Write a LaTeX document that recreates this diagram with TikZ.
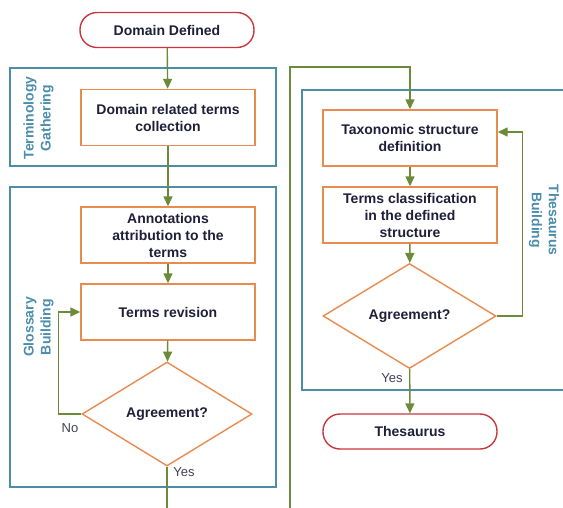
\documentclass[tikz,border=0pt]{standalone}
\usepackage{fontspec}
\setmainfont{Liberation Sans}
\usetikzlibrary{arrows.meta,shapes.geometric,calc}
\definecolor{orng}{HTML}{E98B4F}
\definecolor{redc}{HTML}{C9363E}
\definecolor{grn}{HTML}{6B8A3A}
\definecolor{blu}{HTML}{4B8DAA}
\definecolor{txt}{HTML}{1F1F3A}
\begin{document}
\begin{tikzpicture}[x=1pt,y=-1pt,
  every node/.style={font=\bfseries\fontsize{14}{17}\selectfont, text=txt, align=center},
  proc/.style={draw=orng, line width=1.4pt, fill=white, minimum width=174pt, minimum height=56pt, inner sep=2pt},
  stad/.style={draw=redc, line width=1.4pt, fill=white, rounded corners=17pt, minimum width=174pt, minimum height=35pt},
  dec/.style={draw=orng, line width=1.4pt, fill=white, diamond, aspect=1.63, inner sep=0pt},
  grp/.style={draw=blu, line width=1.4pt, minimum width=266pt, inner sep=0pt},
  grplabel/.style={text=blu},
  conn/.style={draw=grn, line width=1.4pt},
  arr/.style={conn, -{Triangle[length=10pt,width=9pt]}},
  lbl/.style={font=\fontsize{13}{15}\selectfont, text=txt!85}
]
\useasboundingbox (0,0) rectangle (563,507);
% groups
\node[grp, minimum height=98pt] (tg) at (143,117) {};
\node[grp, minimum height=300pt] (gb) at (143,337) {};
\node[grp, minimum width=270pt, minimum height=300pt] (tb) at (437,240) {};
\node[grplabel, rotate=90] (tgl) at (38.5,118) {Terminology\\Gathering};
\node[grplabel, rotate=90] (gbl) at (38.5,327) {Glossary\\Building};
\node[grplabel, rotate=-90] (tbl) at (544,220) {Thesaurus\\Building};
% left column
\node[stad] (dd) at (167,30) {Domain Defined};
\node[proc] (drt) at (168,117.5) {Domain related terms\\collection};
\node[proc] (ann) at (168,235) {Annotations\\attribution to the\\terms};
\node[proc] (rev) at (168,312) {Terms revision};
\node[dec, minimum width=170pt, minimum height=104pt] (dl) at (167,414) {Agreement?};
\node[lbl] (no) at (70,428) {No};
\node[lbl] (yl) at (184,472) {Yes};
% right column
\node[proc] (tax) at (410,138) {Taxonomic structure\\definition};
\node[proc] (tc) at (410,215) {Terms classification\\in the defined\\structure};
\node[dec, minimum width=173pt, minimum height=105pt] (dr) at (409.5,316) {Agreement?};
\node[lbl] (yr) at (392,378) {Yes};
\node[stad] (th) at (410,431.5) {Thesaurus};
\coordinate (botL) at (167,510);
\coordinate (botR) at (290,510);
\coordinate (topR) at (290,67);
% connectors
\draw[arr] (dd) -- (drt);
\draw[arr] (drt) -- (ann);
\draw[arr] (ann) -- (rev);
\draw[arr] (rev) -- (dl);
\draw[arr] (dl.west) -- ++(-23,0) |- (rev.west);
\draw[conn] (dl.south) -- (dl.south |- botL);
\draw[arr] (botR) -- (topR) -| (tax.north);
\draw[arr] (tax) -- (tc);
\draw[arr] (tc) -- (dr);
\draw[arr] (dr.east) -- ++(26,0) |- ([yshift=6pt]tax.east);
\draw[arr] (dr) -- (th);
\end{tikzpicture}
\end{document}
